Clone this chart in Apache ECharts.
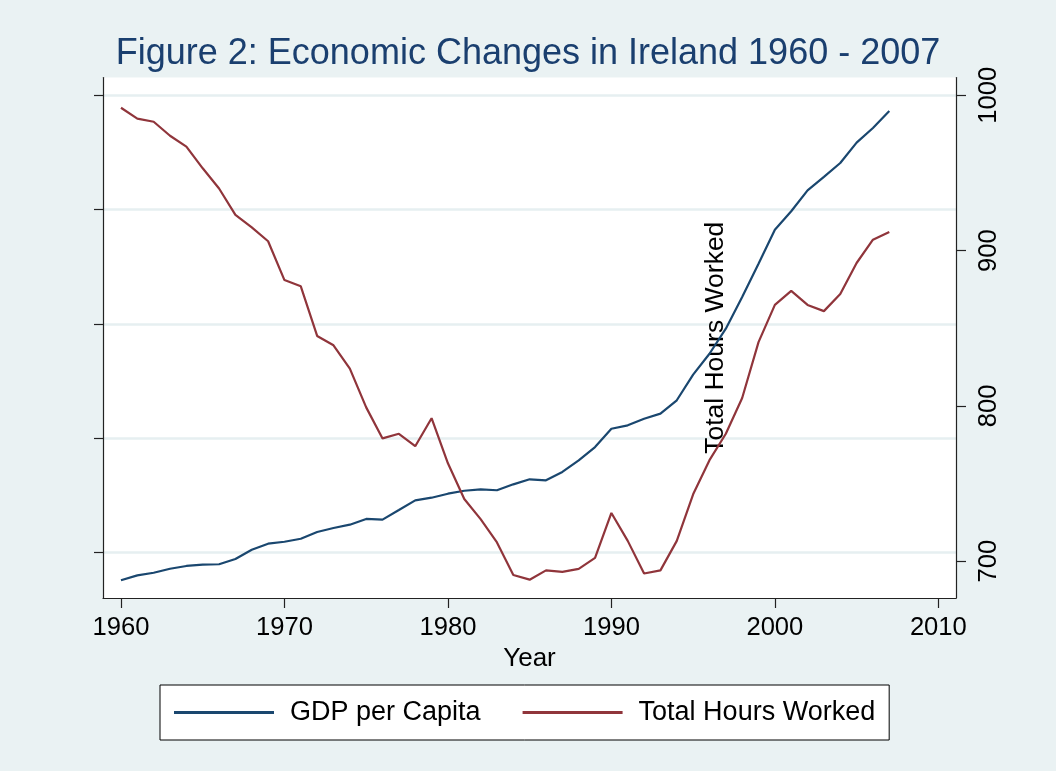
<!DOCTYPE html>
<html>
<head>
<meta charset="utf-8">
<script src="https://cdn.jsdelivr.net/npm/echarts@6/dist/echarts.min.js"></script>
<style>
html,body{margin:0;padding:0;background:#eaf2f3;}
#chart{width:1056px;height:771px;}
</style>
</head>
<body>
<div id="chart"></div>
<script>
var years = [1960,1961,1962,1963,1964,1965,1966,1967,1968,1969,1970,1971,1972,1973,1974,1975,1976,1977,1978,1979,1980,1981,1982,1983,1984,1985,1986,1987,1988,1989,1990,1991,1992,1993,1994,1995,1996,1997,1998,1999,2000,2001,2002,2003,2004,2005,2006,2007];
var gdpPerCapita = [7590,8020,8250,8600,8840,8950,8990,9450,10260,10790,10960,11220,11810,12160,12450,12950,12890,13730,14580,14810,15160,15420,15540,15460,15980,16420,16330,17060,18080,19240,20840,21140,21720,22160,23330,25570,27400,29590,32360,35270,38250,39860,41690,42860,44080,45860,47140,48630];
var totalHoursWorked = [992,985,983,974,967,953,940,923,915,906,881,877,845,839,824,799,779,782,774,792,763,740,727,712,691,688,694,693,695,702,731,713,692,694,713,743,765,782,805,841,865,874,865,861,872,892,907,912];
var xTicks = [1960,1970,1980,1990,2000,2010];
var leftTicks = [10000,20000,30000,40000,50000];
var rightTicks = [700,800,900,1000];

var gdpData = years.map(function(y,i){return [y, gdpPerCapita[i]];});
var hoursData = years.map(function(y,i){return [y, totalHoursWorked[i]];});
var plain = function(v){ return String(v); };

var axisLineStyle = {color:'#222', width:1.2};
var chart = echarts.init(document.getElementById('chart'), null, {renderer:'canvas'});
chart.setOption({
  backgroundColor:'#eaf2f3',
  animation:false,
  textStyle:{fontFamily:'Liberation Sans, Arial, sans-serif'},
  title:{
    text:'Figure 2: Economic Changes in Ireland 1960 - 2007',
    left:'center', top:31,
    textStyle:{fontFamily:'Liberation Sans, Arial, sans-serif', fontSize:36, fontWeight:'normal', color:'#1a3f6f'}
  },
  grid:{left:103, right:100, top:77.5, bottom:173, show:true, backgroundColor:'#ffffff', borderWidth:0},
  legend:{
    left:160, top:685,
    padding:[14,14],
    backgroundColor:'#ffffff', borderColor:'#000', borderWidth:1,
    itemWidth:100, itemHeight:3, itemGap:42, icon:'rect',
    textStyle:{fontSize:27, color:'#000', padding:[0,0,0,11], fontFamily:'Liberation Sans, Arial, sans-serif'},
    data:['GDP per Capita','Total Hours Worked']
  },
  xAxis:{
    type:'value', min:1958.9, max:2011.08,
    name:'Year', nameLocation:'middle', nameGap:44,
    nameTextStyle:{fontSize:26, color:'#000'},
    axisLine:{show:true, lineStyle:axisLineStyle},
    axisTick:{show:true, length:10, lineStyle:axisLineStyle, customValues:xTicks},
    axisLabel:{show:true, fontSize:25.6, color:'#000', margin:17, customValues:xTicks, formatter:plain},
    splitLine:{show:false}
  },
  yAxis:[{
    type:'value', position:'left', min:6039, max:51557,
    axisLine:{show:true, lineStyle:axisLineStyle},
    axisTick:{show:true, length:9, lineStyle:axisLineStyle, customValues:leftTicks},
    axisLabel:{show:false, customValues:leftTicks},
    splitLine:{show:true, lineStyle:{color:'#e6eff1', width:2.5}}
  },{
    type:'value', position:'right', min:676.2, max:1011.5,
    name:'Total Hours Worked', nameLocation:'middle', nameRotate:90, nameGap:-254,
    nameTextStyle:{fontSize:26.5, color:'#000'},
    axisLine:{show:true, lineStyle:axisLineStyle},
    axisTick:{show:true, length:10, lineStyle:axisLineStyle, customValues:rightTicks},
    axisLabel:{show:true, rotate:90, fontSize:25.6, color:'#000', margin:20, customValues:rightTicks, formatter:plain},
    splitLine:{show:false}
  }],
  series:[{
    name:'GDP per Capita', type:'line', yAxisIndex:0, data:gdpData,
    showSymbol:false, lineStyle:{color:'#1a476f', width:2.2}, itemStyle:{color:'#1a476f'}
  },{
    name:'Total Hours Worked', type:'line', yAxisIndex:1, data:hoursData,
    showSymbol:false, lineStyle:{color:'#90353b', width:2.2}, itemStyle:{color:'#90353b'}
  }]
});
</script>
</body>
</html>
